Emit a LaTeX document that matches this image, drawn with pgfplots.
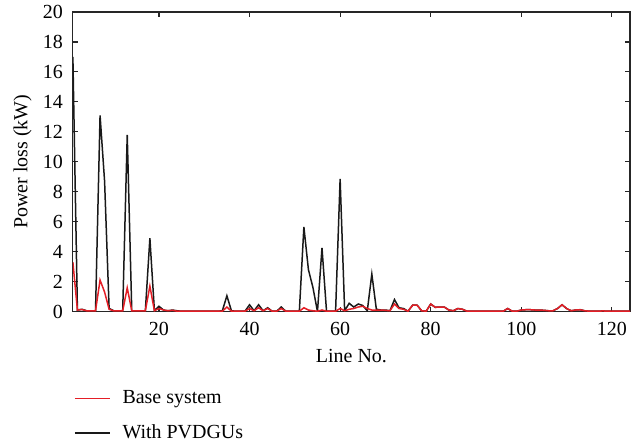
\documentclass[border=0pt]{standalone}
\usepackage{fontspec}
\setmainfont{Liberation Serif}
\usepackage{pgfplots}
\usepackage{pgfplotstable}
\pgfplotsset{compat=1.18}

\definecolor{baseRed}{RGB}{228,30,38}
\definecolor{pvBlack}{RGB}{25,25,25}

% Line No. | loss with PVDGUs | loss of base system (kW)
\pgfplotstableread{
x   pv     base
1   17.0   3.30
2   0.10   0.10
3   0.15   0.13
4   0.05   0.05
5   0.05   0.05
6   0.05   0.05
7   13.1   2.10
8   8.70   1.30
9   0.20   0.15
10  0.05   0.05
11  0.05   0.05
12  0.05   0.05
13  11.8   1.58
14  0.05   0.05
15  0.05   0.05
16  0.05   0.05
17  0.05   0.05
18  4.90   1.70
19  0.05   0.05
20  0.35   0.20
21  0.10   0.10
22  0.05   0.05
23  0.10   0.08
24  0.05   0.02
25  0.02   0.02
26  0.02   0.02
27  0.02   0.02
28  0.02   0.02
29  0.02   0.02
30  0.02   0.02
31  0.02   0.02
32  0.02   0.02
33  0.02   0.02
34  0.05   0.02
35  1.05   0.30
36  0.05   0.02
37  0.02   0.02
38  0.02   0.02
39  0.02   0.02
40  0.45   0.20
41  0.05   0.05
42  0.45   0.25
43  0.05   0.05
44  0.25   0.20
45  0.02   0.02
46  0.02   0.02
47  0.30   0.20
48  0.02   0.02
49  0.02   0.02
50  0.02   0.02
51  0.02   0.02
52  5.65   0.25
53  2.80   0.10
54  1.60   0.05
55  0.00   0.02
56  4.25   0.10
57  0.02   0.02
58  0.02   0.02
59  0.02   0.02
60  8.85   0.20
61  0.05   0.05
62  0.55   0.15
63  0.30   0.20
64  0.50   0.30
65  0.40   0.35
66  0.05   0.20
67  2.50   0.10
68  0.15   0.10
69  0.10   0.10
70  0.10   0.08
71  0.05   0.05
72  0.80   0.50
73  0.25   0.20
74  0.20   0.15
75  0.02   0.02
76  0.42   0.42
77  0.42   0.42
78  0.05   0.05
79  0.02   0.02
80  0.50   0.50
81  0.28   0.28
82  0.30   0.30
83  0.30   0.30
84  0.10   0.10
85  0.05   0.05
86  0.20   0.20
87  0.15   0.15
88  0.02   0.02
89  0.02   0.02
90  0.02   0.02
91  0.02   0.02
92  0.02   0.02
93  0.02   0.02
94  0.02   0.02
95  0.02   0.02
96  0.02   0.02
97  0.20   0.20
98  0.02   0.02
99  0.02   0.02
100 0.10   0.10
101 0.12   0.12
102 0.12   0.12
103 0.10   0.10
104 0.10   0.10
105 0.08   0.08
106 0.05   0.05
107 0.05   0.05
108 0.20   0.20
109 0.45   0.45
110 0.20   0.20
111 0.05   0.05
112 0.10   0.10
113 0.12   0.12
114 0.05   0.05
115 0.02   0.02
116 0.02   0.02
117 0.02   0.02
118 0.04   0.04
119 0.02   0.02
120 0.02   0.02
121 0.02   0.02
122 0.02   0.02
123 0.02   0.02
124 0.02   0.02
}\losses

\begin{document}
\begin{tikzpicture}
\begin{axis}[
  name=ax,
  scale only axis,
  width=279pt, height=150pt,
  xmin=1, xmax=124,
  ymin=0, ymax=20,
  xtick={20,40,...,120},
  ytick={0,2,...,20},
  tick align=inside,
  major tick length=2.5pt,
  axis line style={line width=0.6pt, black!85},
  every tick/.style={line width=0.6pt, black!85},
  /pgf/number format/assume math mode=true,
  tick label style={font=\fontsize{10}{12}\selectfont},
  xticklabel style={yshift=-2pt},
  yticklabel style={xshift=-1.5pt},
  label style={font=\fontsize{10}{12}\selectfont},
  xlabel={Line No.},
  ylabel={Power loss (kW)},
  ylabel style={at={(axis description cs:-0.0905,0.5)}, anchor=center},
  reverse legend,
  legend cell align=left,
  legend style={
    at={(-0.0093,-0.235)}, anchor=north west,
    draw=none, fill=none,
    font=\fontsize{10}{12}\selectfont,
    row sep=5pt,
  },
  legend image code/.code={%
    \draw[#1] (0pt,0pt) -- (17.5pt,0pt);
    \path (21.5pt,0pt);},
]
\addplot[pvBlack, line width=0.75pt] table[x=x, y=pv] {\losses};
\addlegendentry{With PVDGUs}
\addplot[baseRed, line width=0.75pt] table[x=x, y=base] {\losses};
\addlegendentry{Base system}
\end{axis}
\pgfresetboundingbox
\path[use as bounding box] ([shift={(-36.5pt,-67.5pt)}]ax.south west) rectangle ([shift={(0.5pt,6pt)}]ax.north east);
\end{tikzpicture}
\end{document}
